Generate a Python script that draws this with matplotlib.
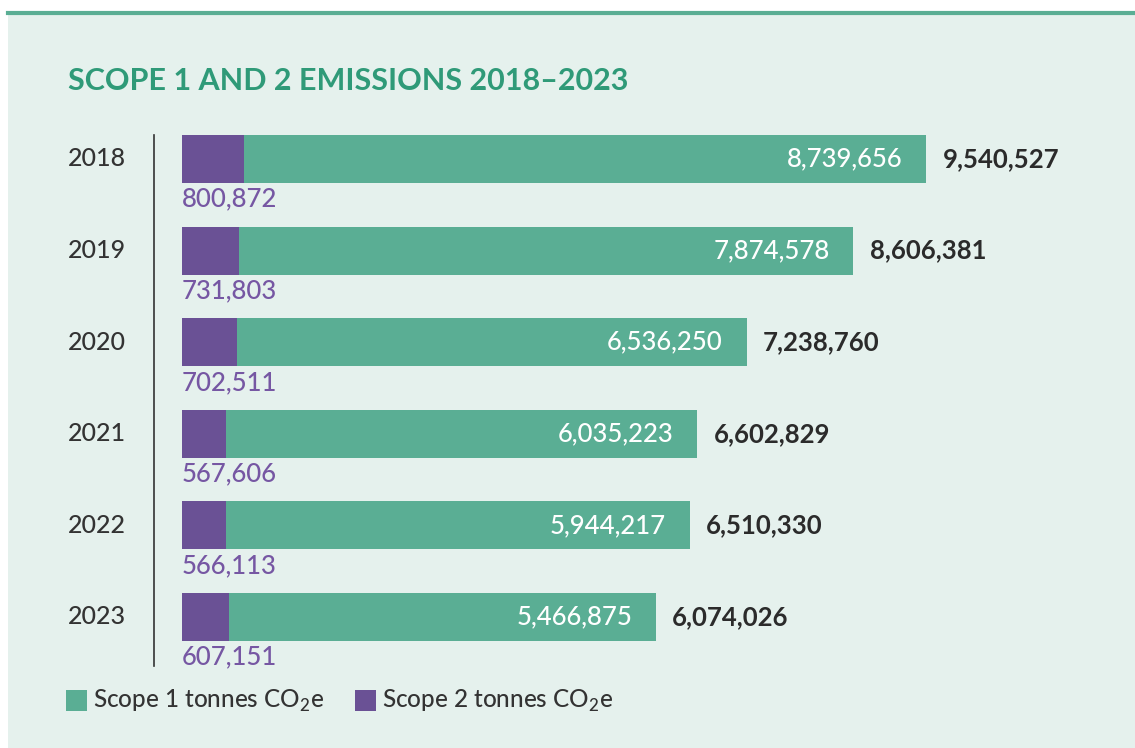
import matplotlib
matplotlib.use("Agg")
import matplotlib.pyplot as plt
from matplotlib.patches import Rectangle
from matplotlib.lines import Line2D

plt.rcParams['font.family'] = ['Lato', 'DejaVu Sans']
plt.rcParams['mathtext.fontset'] = 'custom'
plt.rcParams['mathtext.rm'] = 'Lato'

years = ['2018', '2019', '2020', '2021', '2022', '2023']
scope1 = [8739656, 7874578, 6536250, 6035223, 5944217, 5466875]
scope2 = [800872, 731803, 702511, 567606, 566113, 607151]
totals = [9540527, 8606381, 7238760, 6602829, 6510330, 6074026]

title = 'SCOPE 1 AND 2 EMISSIONS 2018–2023'
legend_labels = ['Scope 1 tonnes CO$_\\mathregular{2}$e', 'Scope 2 tonnes CO$_\\mathregular{2}$e']

GREEN = '#5aae94'
PURPLE = '#6a5195'
BG = '#e5f1ed'
TITLE_GREEN = '#2f9a78'
PURPLE_TXT = '#7657a3'
DARK = '#2b2b2b'

W, H = 1135, 748
fig = plt.figure(figsize=(W / 100, H / 100), dpi=100)
fig.patch.set_facecolor('white')

def fx(px):
    return px / W

def fy(py):
    return 1 - py / H

# panel background and top rule
fig.add_artist(Rectangle((fx(8), 0), 1 - fx(8), fy(12), transform=fig.transFigure,
                         facecolor=BG, edgecolor='none', zorder=0))
fig.add_artist(Line2D([fx(8), 1], [fy(12.5), fy(12.5)], transform=fig.transFigure,
                      color=GREEN, lw=3, zorder=1))

fig.text(fx(68), fy(81), title, color=TITLE_GREEN, fontsize=22, fontweight='bold',
         va='center', ha='left')

# bar area
left_px, right_px = 182, W
top_px, bot_px = 113.2, 662.8
ax = fig.add_axes([fx(left_px), fy(bot_px), fx(right_px - left_px), (bot_px - top_px) / H])
ax.set_facecolor('none')
xmax = totals[0] * (right_px - left_px) / (926 - left_px)
ax.set_xlim(0, xmax)
ax.set_ylim(len(years) - 0.5, -0.5)
ax.axis('off')

pos = list(range(len(years)))
bh = 0.525
ax.barh(pos, scope2, height=bh, color=PURPLE, edgecolor='none')
ax.barh(pos, scope1, left=scope2, height=bh, color=GREEN, edgecolor='none')

for i, y in enumerate(years):
    end = scope2[i] + scope1[i]
    ax.annotate(f'{scope1[i]:,}', xy=(end, i), xytext=(-17, 0), textcoords='offset points',
                ha='right', va='center', color='white', fontsize=18.5, fontweight='medium')
    ax.annotate(f'{totals[i]:,}', xy=(end, i), xytext=(12, 0), textcoords='offset points',
                ha='left', va='center', color=DARK, fontsize=18.5, fontweight='bold')
    ax.annotate(f'{scope2[i]:,}', xy=(0, i), xytext=(0, -29), textcoords='offset points',
                ha='left', va='center', color=PURPLE_TXT, fontsize=18.5, fontweight='medium')
    ax.annotate(y, xy=(0, i), xycoords=('figure fraction', 'data'),
                xytext=(fx(97), 0), textcoords=('figure fraction', 'offset points'),
                ha='center', va='center', color='#333333', fontsize=18, fontweight='medium')

# vertical axis rule
fig.add_artist(Line2D([fx(154), fx(154)], [fy(135), fy(666)], transform=fig.transFigure,
                      color='#333333', lw=1.2))

# legend
for x0, col, lab in [(66, GREEN, legend_labels[0]), (355, PURPLE, legend_labels[1])]:
    fig.add_artist(Rectangle((fx(x0), fy(711)), fx(21), 21 / H, transform=fig.transFigure,
                             facecolor=col, edgecolor='none'))
    fig.text(fx(x0 + 27), fy(701), lab, color='#333333', fontsize=17.5, va='center', ha='left',
             fontweight='medium')

fig.savefig('out.png', dpi=100, facecolor=fig.get_facecolor())
